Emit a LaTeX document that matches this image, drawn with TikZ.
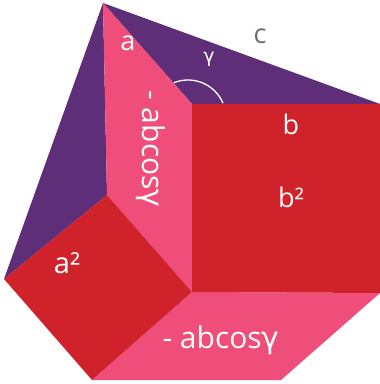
\documentclass[tikz,border=0pt]{standalone}
\usepackage{fontspec}
\setmainfont{Open Sans}
\newfontfamily\gfont{DejaVu Sans}
\definecolor{purp}{RGB}{94,46,121}
\definecolor{redsq}{RGB}{208,34,42}
\definecolor{pinkp}{RGB}{239,77,122}
\definecolor{grayc}{RGB}{110,110,113}
\newcommand{\gam}{{\gfont γ}}
\begin{document}
\begin{tikzpicture}[x=1pt,y=1pt,
  lbl/.style={text=white,inner sep=0pt,font=\fontsize{27}{27}\selectfont},
  big/.style={text=white,inner sep=0pt,font=\fontsize{30}{30}\selectfont}]
\useasboundingbox (0,0) rectangle (380,384);
\coordinate (A) at (103,381);
\coordinate (B) at (380,280);
\coordinate (C) at (192,280);
\coordinate (Cp) at (192,92);
\coordinate (Bp) at (380,91);
\coordinate (Ap) at (107,189);
\coordinate (L) at (4,105);
\coordinate (D) at (92,4);
\coordinate (E) at (281,4);
% purple triangles
\fill[purp] (A) -- (B) -- (C) -- cycle;
\fill[purp] (A) -- (Ap) -- (L) -- cycle;
% pink parallelograms
\fill[pinkp] (A) -- (C) -- (Cp) -- (Ap) -- cycle;
\fill[pinkp] (Cp) -- (Bp) -- (E) -- (D) -- cycle;
% red squares
\fill[redsq] (C) -- (B) -- (Bp) -- (Cp) -- cycle;
\fill[redsq] (Ap) -- (Cp) -- (D) -- (L) -- cycle;
% angle arc
\draw[white,line width=1.3pt] (188,266) ++(23:38) arc[start angle=23,end angle=112,radius=38];
% labels
\node[lbl] (la) at (128,341) {a};
\node[lbl,text=grayc] (lc) at (260,348) {c};
\node[text=white,inner sep=0pt,font=\fontsize{19}{19}\selectfont] (lg) at (209,325) {\gam};
\node[lbl] (lb) at (291,260) {b};
\node[lbl] (lbb) at (291,187) {b²};
\node[lbl,font=\fontsize{29}{29}\selectfont] (laa) at (67,121) {a²};
\node[big,rotate=-90,anchor=base] (v) at (142,235) {- abcos\gam};
\node[big,anchor=base] (h) at (221,35) {- abcos\gam};
\end{tikzpicture}
\end{document}
